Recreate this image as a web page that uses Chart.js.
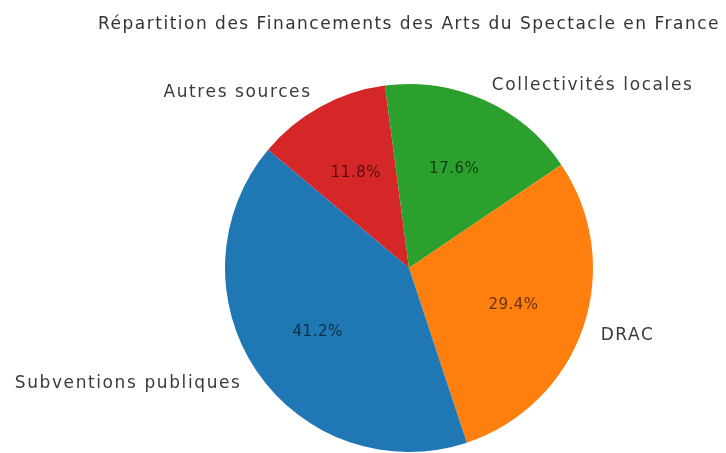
<!DOCTYPE html>
<html lang="fr">
<head>
<meta charset="utf-8">
<title>Financements des Arts du Spectacle</title>
<script src="https://cdn.jsdelivr.net/npm/chart.js@4.4.0/dist/chart.umd.min.js"></script>
<style>
    html, body { margin: 0; padding: 0; background: #fff; }
    #wrap { width: 726px; height: 453px; position: relative; }
</style>
</head>
<body>
<div id="wrap"><canvas id="pieChart"></canvas></div>
<script>
// Data (reference order, matplotlib draws it counter-clockwise)
const chartTitle = 'Répartition des Financements des Arts du Spectacle en France';
const categories = ['Subventions publiques', 'DRAC', 'Collectivités locales', 'Autres sources'];
const shares = [41.2, 29.4, 17.6, 11.8];
const colors = ['#1f77b4', '#ff7f0e', '#2ca02c', '#d62728'];

// Chart.js goes clockwise, so flip the order to keep the same layout
const order = [3, 2, 1, 0];
const FONT = '"DejaVu Sans", sans-serif';

const pieLabels = {
    id: 'pieLabels',
    afterDatasetsDraw(chart) {
        const ctx = chart.ctx;
        const meta = chart.getDatasetMeta(0);
        const values = chart.data.datasets[0].data;
        const total = values.reduce((a, b) => a + b, 0);
        ctx.save();
        ctx.textBaseline = 'middle';
        meta.data.forEach((arc, i) => {
            const p = arc.getProps(['x', 'y', 'startAngle', 'endAngle', 'outerRadius'], true);
            const mid = (p.startAngle + p.endAngle) / 2;
            const c = Math.cos(mid), s = Math.sin(mid);

            // category name outside the pie
            ctx.font = '17px ' + FONT;
            ctx.letterSpacing = '1.6px';
            ctx.fillStyle = '#3a3a3a';
            ctx.textAlign = c < 0 ? 'right' : 'left';
            ctx.fillText(chart.data.labels[i], p.x + c * p.outerRadius * 1.1, p.y + s * p.outerRadius * 1.1 + 2);

            // percentage inside the wedge
            ctx.font = '15px ' + FONT;
            ctx.letterSpacing = '0.5px';
            ctx.fillStyle = 'rgba(0, 0, 0, 0.62)';
            ctx.textAlign = 'center';
            const pct = (values[i] / total * 100).toFixed(1) + '%';
            ctx.fillText(pct, p.x + c * p.outerRadius * 0.6, p.y + s * p.outerRadius * 0.6 + 2);
        });

        // title centred over the pie
        const first = meta.data[0];
        ctx.font = '17px ' + FONT;
        ctx.letterSpacing = '1.5px';
        ctx.fillStyle = '#333';
        ctx.textAlign = 'center';
        ctx.textBaseline = 'alphabetic';
        ctx.fillText(chartTitle, first.x, 28.5);
        ctx.restore();
    }
};

new Chart(document.getElementById('pieChart'), {
    type: 'pie',
    data: {
        labels: order.map(i => categories[i]),
        datasets: [{
            data: order.map(i => shares[i]),
            backgroundColor: order.map(i => colors[i]),
            borderWidth: 0,
            hoverOffset: 0
        }]
    },
    options: {
        responsive: true,
        maintainAspectRatio: false,
        animation: false,
        rotation: -50,
        layout: {
            padding: { left: 225, right: 133, top: 84, bottom: 1 }
        },
        plugins: {
            legend: { display: false },
            title: { display: false },
            tooltip: { enabled: false }
        }
    },
    plugins: [pieLabels]
});
</script>
</body>
</html>
